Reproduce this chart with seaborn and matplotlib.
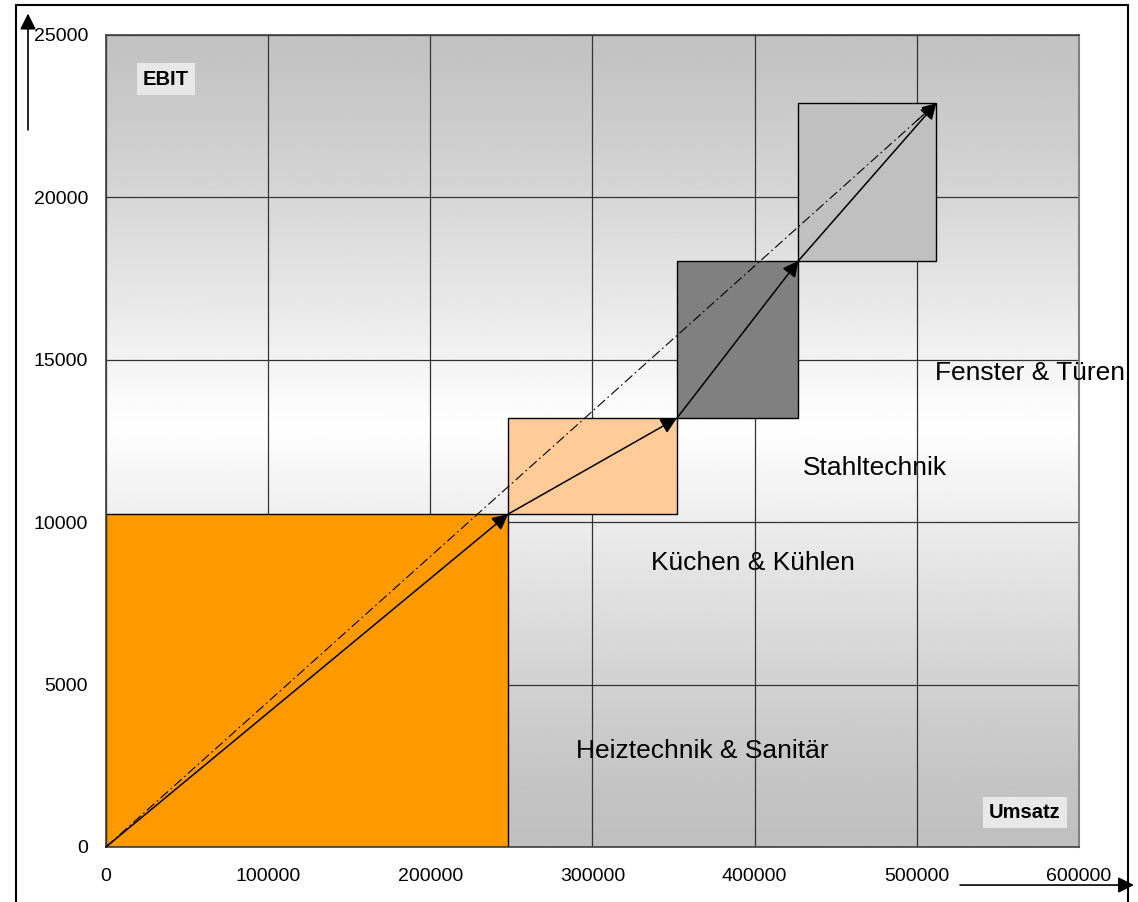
import numpy as np
import pandas as pd
import matplotlib
matplotlib.use("Agg")
import matplotlib.pyplot as plt
from matplotlib.patches import Rectangle
import seaborn as sns

sns.set_style("white")
plt.rcParams['font.family'] = ['Liberation Sans', 'DejaVu Sans']
plt.rcParams['text.color'] = 'black'

# Segmentdaten (kumuliert)
segmente = ["Heiztechnik & Sanitär", "Küchen & Kühlen", "Stahltechnik", "Fenster & Türen"]
umsatz_kum = [0, 248000, 352000, 427000, 512000]
ebit_kum = [0, 10250, 13200, 18050, 22900]
farben = ['#FF9900', '#FFCC99', '#808080', '#C0C0C0']

x_ticks = [0, 100000, 200000, 300000, 400000, 500000, 600000]
y_ticks = [0, 5000, 10000, 15000, 20000, 25000]

df = pd.DataFrame({'Umsatz': umsatz_kum, 'EBIT': ebit_kum})

fig = plt.figure(figsize=(11.38, 9.02), dpi=100)
ax = fig.add_axes([0.0931, 0.0610, 0.8551, 0.9002])

# Hintergrund: Verlauf grau - weiss - grau
t = np.linspace(0, 1, 400)
g = 0.75 + 0.25 * (1 - np.abs(t - 0.52) / 0.52) ** 1.3
g = np.clip(g, 0, 1)
ax.imshow(np.repeat(g[:, None], 2, axis=1), cmap='gray', vmin=0, vmax=1,
          extent=[0, 600000, 0, 25000], origin='lower', aspect='auto', zorder=0)

ax.set_xlim(0, 600000)
ax.set_ylim(0, 25000)
ax.set_xticks(x_ticks)
ax.set_yticks(y_ticks)
ax.grid(True, color='#333333', linewidth=0.9, zorder=1)
ax.set_axisbelow(True)

# Segment-Rechtecke
for i, seg in enumerate(segmente):
    ax.bar(umsatz_kum[i], ebit_kum[i + 1] - ebit_kum[i], width=umsatz_kum[i + 1] - umsatz_kum[i],
           bottom=ebit_kum[i], align='edge', color=farben[i], edgecolor='black', linewidth=1.0, zorder=2)

# Pfeile
for i in range(len(segmente)):
    ax.annotate('', xy=(umsatz_kum[i + 1], ebit_kum[i + 1]), xytext=(umsatz_kum[i], ebit_kum[i]),
                arrowprops=dict(arrowstyle='-|>', color='black', lw=1.1, mutation_scale=24,
                                shrinkA=0, shrinkB=0), zorder=4)

# Gesamtlinie strichpunktiert
sns.lineplot(data=df.iloc[[0, -1]], x='Umsatz', y='EBIT', ax=ax, color='black',
             linewidth=0.8, zorder=3)
ax.lines[-1].set_dashes([9, 3, 1.5, 3])
ax.annotate('', xy=(umsatz_kum[-1], ebit_kum[-1]), xytext=(umsatz_kum[-1] - 12000, ebit_kum[-1] - 536),
            arrowprops=dict(arrowstyle='-|>', color='black', lw=0.8, mutation_scale=22,
                            shrinkA=0, shrinkB=0), zorder=4)

# Beschriftungen
ax.text(368000, 2950, segmente[0], ha='center', va='center', fontsize=19)
ax.text(399000, 8750, segmente[1], ha='center', va='center', fontsize=19)
ax.text(474000, 11680, segmente[2], ha='center', va='center', fontsize=19)
ax.text(570000, 14600, segmente[3], ha='center', va='center', fontsize=19, clip_on=False)

box = dict(boxstyle='square,pad=0.3', facecolor='#E8E8E8', edgecolor='none')
ax.text(0.0617, 0.9458, 'EBIT', transform=ax.transAxes, ha='center', va='center',
        fontsize=14.5, fontweight='bold', bbox=box, zorder=5)
ax.text(0.9445, 0.0419, 'Umsatz', transform=ax.transAxes, ha='center', va='center',
        fontsize=14.5, fontweight='bold', bbox=box, zorder=5)

ax.set_xlabel('')
ax.set_ylabel('')
ax.tick_params(axis='both', direction='out', length=6, width=1, color='#808080',
               labelsize=14, labelcolor='black')
ax.tick_params(axis='x', pad=9)
ax.tick_params(axis='y', pad=7)
ax.ticklabel_format(style='plain')
for s in ['top', 'left', 'bottom']:
    ax.spines[s].set_color('#404040')
    ax.spines[s].set_linewidth(1.2)
ax.spines['right'].set_color('#808080')
ax.spines['right'].set_linewidth(1.5)

# Achsenpfeile ausserhalb, Rahmen
fig.patches.append(Rectangle((0.0141, -0.01), 0.9771, 1.0045, transform=fig.transFigure,
                             fill=False, edgecolor='black', linewidth=1.5))
ax.annotate('', xy=(0.0246, 0.985), xytext=(0.0246, 0.856), xycoords='figure fraction',
            textcoords='figure fraction',
            arrowprops=dict(arrowstyle='-|>', color='black', lw=1.2, mutation_scale=24,
                            shrinkA=0, shrinkB=0), annotation_clip=False)
ax.annotate('', xy=(0.9965, 0.0188), xytext=(0.8436, 0.0188), xycoords='figure fraction',
            textcoords='figure fraction',
            arrowprops=dict(arrowstyle='-|>', color='black', lw=1.2, mutation_scale=24,
                            shrinkA=0, shrinkB=0), annotation_clip=False)

fig.savefig('out.png', dpi=100)
